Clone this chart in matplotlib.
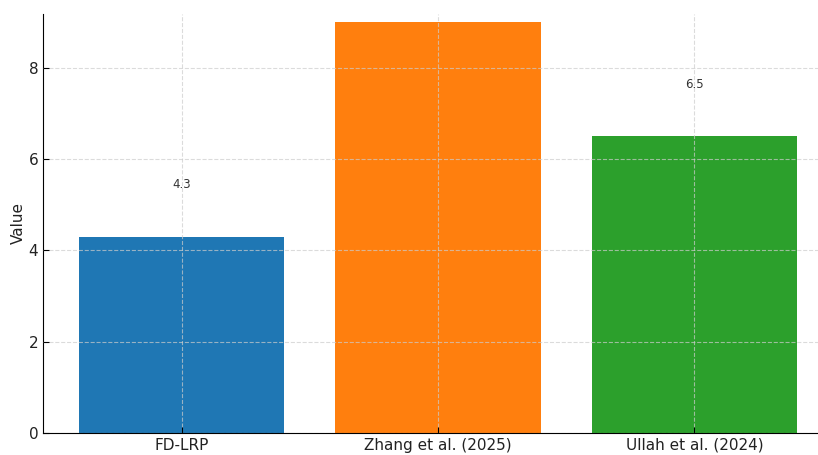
import matplotlib.pyplot as plt

methods = ['FD-LRP', 'Zhang et al. (2025)', 'Ullah et al. (2024)']
values = [4.3, 9.0, 6.5]
colors = ['#1f77b4', '#ff7f0e', '#2ca02c']

fig = plt.figure(figsize=(8.18, 4.55), dpi=100)
ax = fig.add_axes([43 / 818, 22 / 455, 790 / 818, 419 / 455])

bars = ax.bar(methods, values, color=colors, width=0.8, zorder=1)
# value labels sit one unit above each bar; anything past the top is clipped
for b, v in zip(bars, values):
    ax.text(b.get_x() + b.get_width() / 2, v + 1, f'{v}', ha='center', va='bottom',
            fontsize=8.5, color='#333333', clip_on=True)

ax.set_xlim(-0.54, 2.54)
ax.set_ylim(0, 9.18)
ax.set_yticks([0, 2, 4, 6, 8])
ax.set_ylabel('Value', fontsize=11, color='#222222', labelpad=2)
ax.tick_params(direction='in', labelsize=11, length=4, labelcolor='#222222')
ax.grid(True, linestyle='--', color='#cccccc', linewidth=0.8, alpha=0.7, zorder=2)
ax.set_axisbelow(False)
ax.spines['top'].set_visible(False)
ax.spines['right'].set_visible(False)

fig.savefig('out.png', dpi=100)
